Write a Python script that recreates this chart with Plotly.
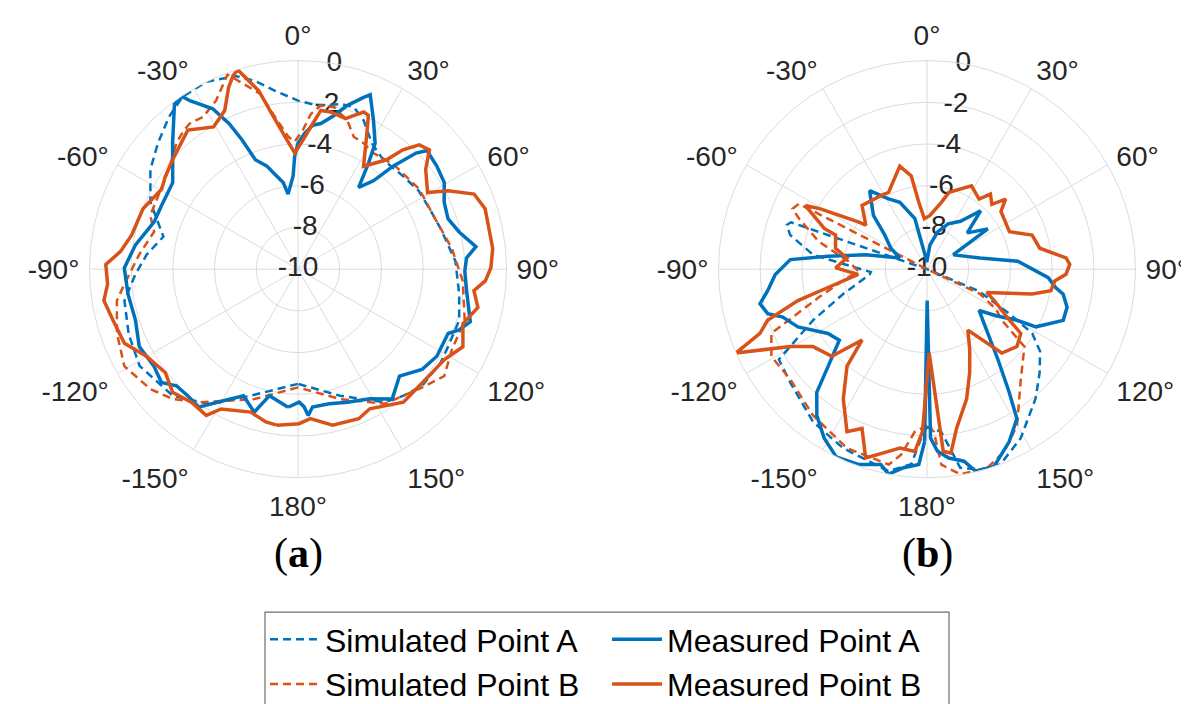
import plotly.graph_objects as go

BLUE = '#0072BD'
ORANGE = '#D95319'
FONT = 'Liberation Sans, Arial, sans-serif'
TXT = '#262626'
GRID = '#dcdcdc'

# angular ticks
ang_vals = [0, 30, 60, 90, 120, 150, 180, 210, 240, 270, 300, 330]
ang_text = ['0°', '30°', '60°', '90°', '120°', '150°', '180°', '-150°', '-120°', '-90°', '-60°', '-30°']
# radial ticks
r_ticks = [-10, -8, -6, -4, -2, 0]
r_tick_text = ['-10', '-8', '-6', '-4', '-2', '0']

# ---------------- (a) ----------------  (theta in deg, value in dB)
a_sim_A = [(-180, -4.5), (-159.5, -3.52), (-147, -2.28), (-135.3, -1.46), (-121.4, -1.1),
           (-111.1, -1.3), (-100.3, -1.54), (-91.8, -2.2), (-84.5, -2.71), (-76.4, -3.36),
           (-65.6, -2.23), (-56, -1.46), (-48.1, -0.97), (-40.3, -0.43), (-33.8, -0.05),
           (-26, 0.0), (-17.9, -0.27), (-12.8, -0.75), (-7.3, -1.38), (0, -1.92), (6.9, -2.1),
           (14.5, -1.82), (19, -1.78), (23.8, -2.2), (30.4, -3.0), (37.9, -3.35), (48.4, -3.27),
           (57, -3.1), (66, -3.05), (74.1, -2.89), (87.1, -2.44), (98.8, -2.18), (107.6, -1.89),
           (117.3, -1.9), (123.3, -1.82), (133.3, -1.83), (140.2, -2.1), (146.9, -2.38),
           (161.6, -3.6)]
a_sim_B = [(-180, -4.33), (-161.5, -3.43), (-143.3, -2.04), (-136, -1.35), (-129.1, -0.88),
           (-119.2, -0.46), (-109.5, -0.79), (-99.9, -1.18), (-95, -1.64), (-84.8, -2.35),
           (-75.4, -2.87), (-70, -2.46), (-52.3, -2.18), (-44, -1.6), (-39.4, -1.38),
           (-36.6, -1.3), (-32, -1.4), (-25.9, -1.01), (-19.9, -0.07), (-12.1, -1.41),
           (-8.6, -2.62), (-4.2, -3.63), (-1.5, -3.88), (2, -3.33), (4.8, -2.52), (8, -2.08),
           (12.6, -2.04), (18.3, -2.48), (22.8, -3.11), (27.5, -3.19), (33, -3.36), (42.7, -3.2),
           (56.6, -3.03), (68.3, -3.02), (82.2, -2.56), (94.1, -2.08), (107, -1.64),
           (117.7, -1.67), (126.2, -1.31), (133.7, -1.78), (147.2, -2.32), (162, -3.45)]
a_meas_A = [(-175.9, -3.36), (-167.3, -3.78), (-163, -2.83), (-156.7, -3.39), (-148.8, -2.54),
            (-144.3, -1.85), (-138.9, -1.95), (-133.8, -1.92), (-129.7, -1.49), (-124, -1.67),
            (-116, -1.53), (-107.5, -1.83), (-98.3, -1.76), (-89.6, -1.67), (-81.5, -2.12),
            (-71.8, -2.74), (-65, -2.78), (-55.4, -2.7), (-49.7, -2.12), (-44.9, -1.48),
            (-36.8, -0.11), (-33.8, -0.05), (-32.7, -0.4), (-28, -1.29), (-25.3, -2.28),
            (-23.4, -3.25), (-21.3, -4.37), (-16.8, -4.84), (-13.6, -5.33), (-9.7, -5.79),
            (-7.5, -6.37), (-3, -5.53), (-1.7, -4.59), (0, -3.96), (2.8, -3.48), (5.9, -3.06),
            (8.9, -2.93), (13.2, -2.43), (16.7, -1.81), (20.9, -1.18), (22.5, -0.95),
            (26.9, -2.0), (31.5, -2.92), (33.6, -3.89), (36.6, -5.12), (40.5, -4.43),
            (42.7, -3.28), (45.5, -2.06), (47.4, -1.6), (53.4, -1.71), (59.4, -1.85),
            (65.4, -2.29), (71.4, -2.41), (77, -2.07), (82.8, -1.4), (86.2, -1.9), (90.7, -2.0),
            (97.3, -1.85), (107, -1.36), (110.7, -1.74), (113.2, -2.17), (122.1, -2.14),
            (129, -2.35), (136.5, -2.93), (144, -2.31), (151, -2.89), (159.6, -3.19),
            (167, -3.37), (174, -3.35), (176, -2.96), (177.5, -3.4), (179.5, -3.62)]
a_meas_B = [(-172.3, -2.45), (-168.1, -2.51), (-161.7, -2.78), (-151.2, -2.35), (-147.9, -1.72),
            (-141.3, -1.82), (-134.5, -1.57), (-128, -1.93), (-120, -1.63), (-113.1, -0.95),
            (-105.5, -0.8), (-99.2, -0.57), (-94.5, -0.84), (-88.6, -0.78), (-84.3, -1.45),
            (-78.4, -1.86), (-68.7, -2.02), (-59.6, -2.42), (-54.9, -2.23), (-48.9, -2.02),
            (-38.4, -1.49), (-30.7, -2.07), (-24.8, -1.62), (-20.9, -0.67), (-18.5, -0.2),
            (-16.8, -0.02), (-12.4, -1.24), (-9.6, -2.44), (-5.6, -3.62), (-1.6, -4.43),
            (2.2, -3.8), (5.8, -2.98), (8.2, -2.31), (11.8, -2.3), (17.5, -2.43), (22.7, -1.83),
            (24.6, -1.89), (26.9, -2.7), (32.5, -4.15), (39, -3.25), (41.3, -2.38), (44.3, -1.67),
            (47.8, -1.49), (52, -2.23), (59.4, -2.78), (62.4, -1.88), (66.9, -0.82), (72.1, -0.57),
            (78, -0.64), (83.9, -0.61), (89.6, -0.75), (93.6, -1.0), (97, -1.5), (102, -1.18),
            (108.3, -1.67), (115.2, -1.26), (121.7, -1.75), (130.8, -1.91), (141.6, -1.86),
            (152.8, -2.47), (157.9, -2.26), (167.5, -2.33), (175.3, -2.81), (179.6, -2.59)]

# ---------------- (b) ----------------
b_sim_A = [(-180, -2.45), (-178.4, -2.04), (-175.4, -0.62), (-169.2, -0.14), (-154.9, -0.52),
           (-143.3, -0.86), (-129.7, -1.48), (-121.4, -1.68), (-114.2, -4.0), (-106.5, -5.81),
           (-95.2, -7.24), (-93, -7.3), (-82.8, -4.49), (-76, -3.24), (-72.5, -2.95), (-71, -3.1),
           (-66, -10), (0, -10), (60, -10), (108, -10), (113, -7.3), (118.4, -5.51),
           (121.4, -4.09), (126, -3.3), (132.6, -2.66), (140, -1.9), (151, -0.73), (159.4, 0.0),
           (165, -0.05), (170.5, -0.34), (175, -2.17)]
b_sim_B = [(-180, -2.5), (-175.7, -2.18), (-172, -1.0), (-168.9, -0.45), (-155.9, -0.6),
           (-142, -1.11), (-128.9, -1.58), (-119.3, -1.44), (-112.4, -1.93), (-104.6, -4.64),
           (-98, -5.9), (-91.6, -6.7), (-84.3, -6.21), (-75.7, -4.65), (-68.5, -3.41),
           (-65.8, -2.93), (-63, -3.1), (-58, -10), (0, -10), (60, -10), (110, -10), (115, -7.2),
           (120, -6.2), (124.3, -5.65), (128.5, -4.03), (139.6, -3.06), (150, -1.36), (157, -0.5),
           (163, -0.05), (170.8, -0.03), (175.8, -0.6), (177.6, -2.2)]
b_meas_A = [(-179.2, -1.73), (-177.6, -0.62), (-173.3, -0.41), (-169.4, 0.0), (-166.7, -0.37),
            (-160.6, -0.07), (-154.2, 0.0), (-148.7, -0.51), (-143, -1.22), (-138.2, -2.07),
            (-134.5, -3.35), (-129, -4.59), (-123, -4.34), (-114.1, -3.22), (-108.4, -2.71),
            (-105.6, -2.07), (-101.7, -1.82), (-97.7, -2.29), (-92, -2.72), (-86, -3.43),
            (-82.6, -5.22), (-76.7, -6.99), (-67.7, -8.59), (-60, -8.0), (-51, -7.39),
            (-44.9, -6.36), (-36.2, -5.34), (-28.7, -6.16), (-22.1, -6.54), (-13.5, -7.51),
            (-8, -9.3), (-3, -9.6), (0, -9.6), (7, -8.83), (16, -8.14), (25, -7.6), (35, -7.2),
            (42.6, -6.2), (48, -7.4), (56.5, -6.5), (61.2, -8.56), (72, -8.02), (78.2, -7.4),
            (85, -5.63), (94, -4.17), (98.1, -3.77), (100.4, -3.36), (105.2, -3.04),
            (110.6, -3.02), (117.9, -4.09), (119.6, -5.04), (124, -6.0), (128.4, -6.81),
            (133, -6.3), (141.9, -4.48), (146.3, -2.89), (149, -1.63), (154.5, -0.84),
            (161.3, 0.0), (166.5, -0.04), (169.1, -0.62), (173.4, -0.88), (176.7, -1.25),
            (178.8, -1.9), (179.7, -8.5)]
b_meas_B = [(-178.4, -2.2), (-176.2, -1.24), (-171.4, -1.32), (-168.1, -1.07), (-162, -0.48),
            (-157.8, -1.75), (-153.8, -1.31), (-147.2, -2.59), (-140.5, -3.97), (-137.5, -5.39),
            (-132.5, -3.81), (-124.2, -3.39), (-119.5, -2.47), (-113.7, 0.0), (-111, -1.42),
            (-107.8, -1.97), (-103.7, -3.63), (-100.5, -5.17), (-94.3, -6.69), (-89.2, -5.62),
            (-82.1, -6.12), (-77.1, -5.5), (-69.5, -5.32), (-68.4, -4.7), (-62.4, -3.42),
            (-60.5, -4.13), (-55.5, -6.0), (-54.3, -6.39), (-45.6, -5.64), (-32.1, -5.84),
            (-26.6, -5.88), (-14.8, -4.89), (-9.6, -5.47), (-7, -6.77), (-3, -7.58), (3.2, -7.42),
            (12.1, -6.72), (16, -6.17), (28.1, -5.47), (36.6, -5.81), (40.2, -5.29), (45, -5.6),
            (48.3, -4.95), (52, -5.5), (65.6, -5.66), (72, -4.7), (79.5, -4.5), (85.4, -3.31),
            (88.1, -3.15), (92.1, -3.33), (95.3, -3.85), (99.9, -3.97), (103.3, -4.82),
            (111.3, -6.93), (115, -6.44), (121.8, -5.35), (124.4, -4.55), (130.7, -4.31),
            (138.3, -4.61), (146.2, -6.48), (152.1, -5.62), (157.6, -4.63), (163, -3.5),
            (169.5, -2.23), (172.6, -1.1), (174.9, -1.23), (178.5, -5.98)]


def split(pairs):
    th = [p[0] for p in pairs] + [pairs[0][0]]
    rr = [p[1] for p in pairs] + [pairs[0][1]]
    return th, rr


fig = go.Figure()

for sub in ['polar', 'polar2']:
    fig.add_trace(go.Scatterpolar(
        r=r_ticks, theta=[10] * len(r_ticks), mode='text', text=r_tick_text,
        textfont=dict(size=28, color=TXT, family=FONT), textposition='middle center',
        cliponaxis=False, showlegend=False, hoverinfo='skip', subplot=sub))

series = [
    ('Simulated Point A', BLUE, 'dash', a_sim_A, b_sim_A, 'legend'),
    ('Simulated Point B', ORANGE, 'dash', a_sim_B, b_sim_B, 'legend'),
    ('Measured Point A', BLUE, 'solid', a_meas_A, b_meas_A, 'legend2'),
    ('Measured Point B', ORANGE, 'solid', a_meas_B, b_meas_B, 'legend2'),
]
for name, color, dash, da, db, lg in series:
    width = 2.5 if dash == 'dash' else 3.5
    dstyle = '8px,5px' if dash == 'dash' else 'solid'
    for sub, data, show in [('polar', da, True), ('polar2', db, False)]:
        th, rr = split(data)
        fig.add_trace(go.Scatterpolar(
            r=rr, theta=th, mode='lines', name=name,
            line=dict(color=color, width=width, dash=dstyle),
            showlegend=show, legend=lg, subplot=sub, cliponaxis=False))

W, H = 1189, 704
R = 214
cy = 268


def polar(cx):
    return dict(
        domain=dict(x=[(cx - R) / W, (cx + R) / W], y=[(H - cy - R) / H, (H - cy + R) / H]),
        bgcolor='white',
        angularaxis=dict(direction='clockwise', rotation=90, tickmode='array',
                         tickvals=ang_vals, ticktext=ang_text,
                         tickfont=dict(size=28, color=TXT, family=FONT),
                         gridcolor=GRID, gridwidth=1, showline=True, linecolor=GRID,
                         linewidth=1, ticks='outside', ticklen=4,
                         tickcolor='rgba(0,0,0,0)'),
        radialaxis=dict(range=[-10, 0], tickmode='array', tickvals=r_ticks,
                        showticklabels=False, gridcolor=GRID, gridwidth=1,
                        showline=False, ticks=''),
    )


leg_common = dict(yanchor='top', xanchor='left', y=(H - 620) / H,
                  font=dict(size=32, family=FONT, color='black'),
                  bgcolor='rgba(0,0,0,0)', borderwidth=0, itemwidth=50,
                  orientation='v', tracegroupgap=0)

fig.update_layout(
    width=W, height=H, margin=dict(l=0, r=0, t=0, b=0),
    paper_bgcolor='white', plot_bgcolor='white',
    polar=polar(290), polar2=polar(919),
    legend=dict(x=257 / W, **leg_common),
    legend2=dict(x=599 / W, **leg_common),
    shapes=[dict(type='rect', xref='paper', yref='paper', x0=257 / W, x1=941 / W,
                 y0=-0.1, y1=(H - 620) / H, line=dict(color='#6e6e6e', width=1.2),
                 fillcolor='rgba(0,0,0,0)', layer='below')],
    annotations=[
        dict(text='(<b>a</b>)', x=290 / W, y=(H - 560) / H, xref='paper', yref='paper',
             xanchor='center', yanchor='middle', showarrow=False,
             font=dict(size=42, family='Liberation Serif, serif', color='black')),
        dict(text='(<b>b</b>)', x=919 / W, y=(H - 560) / H, xref='paper', yref='paper',
             xanchor='center', yanchor='middle', showarrow=False,
             font=dict(size=42, family='Liberation Serif, serif', color='black')),
    ],
    showlegend=True,
)

fig.write_html('out.html')
